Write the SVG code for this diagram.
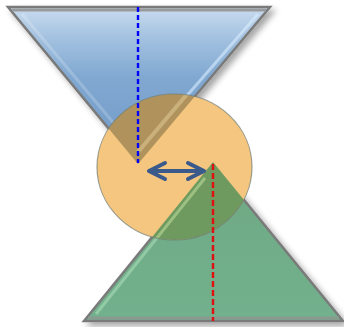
<svg xmlns="http://www.w3.org/2000/svg" width="344" height="327" viewBox="0 0 344 327">
<style>
.tri{stroke:#7a7a7a;stroke-width:2.5;stroke-linejoin:miter}
.dash{fill:none;stroke-width:2.4}
.arr{fill:none;stroke:#3b5a8c;stroke-width:4;stroke-linecap:round;stroke-linejoin:round}
</style>
<defs>
<linearGradient id="gb" x1="0" y1="0" x2="0" y2="1">
<stop offset="0" stop-color="#c9dcef"/>
<stop offset="0.2" stop-color="#a3c1e0"/>
<stop offset="0.45" stop-color="#80a8d1"/>
<stop offset="1" stop-color="#7099c6"/>
</linearGradient>
<linearGradient id="gg" x1="0" y1="0" x2="0" y2="1">
<stop offset="0" stop-color="#6fa883"/>
<stop offset="1" stop-color="#72b18d"/>
</linearGradient>
<clipPath id="cc"><ellipse cx="174.5" cy="167" rx="77.5" ry="73"/></clipPath>
<filter id="sh" x="-10%" y="-10%" width="130%" height="130%">
<feGaussianBlur in="SourceAlpha" stdDeviation="3"/>
<feOffset dx="4" dy="4"/>
<feComponentTransfer><feFuncA type="linear" slope="0.35"/></feComponentTransfer>
<feMerge><feMergeNode/><feMergeNode in="SourceGraphic"/></feMerge>
</filter>
</defs>
<g id="blue-triangle" filter="url(#sh)">
<polygon class="tri" points="8,7 270,7 138,164" fill="url(#gb)"/>
<line x1="138" y1="152" x2="258" y2="14" stroke="#d8ecff" stroke-opacity="0.6" stroke-width="3"/>
<line x1="22" y1="14" x2="138" y2="152" stroke="#ffffff" stroke-opacity="0.2" stroke-width="3"/>
<line x1="12" y1="10" x2="266" y2="10" stroke="#9a9a9a" stroke-width="3"/>
</g>
<g id="green-triangle" filter="url(#sh)">
<polygon class="tri" points="213,162 343,321 84,321" fill="url(#gg)"/>
<line x1="96" y1="314" x2="205" y2="178" stroke="#a8dcb8" stroke-opacity="0.6" stroke-width="3"/>
<line x1="88" y1="318" x2="339" y2="318" stroke="#8a9a90" stroke-width="3"/>
</g>
<g id="circle">
<ellipse cx="174.5" cy="167" rx="77.5" ry="73" fill="#f5c67f"/>
<g clip-path="url(#cc)">
<polygon points="8,7 270,7 138,164" fill="#b0935c"/>
<line x1="138" y1="152" x2="250" y2="20" stroke="#d6bc88" stroke-opacity="0.7" stroke-width="4"/>
<polygon points="213,162 343,321 84,321" fill="#6e9a60"/>
<line x1="96" y1="314" x2="205" y2="178" stroke="#a7c98a" stroke-opacity="0.8" stroke-width="3"/>
</g>
<ellipse cx="174.5" cy="167" rx="77.5" ry="73" fill="none" stroke="#6f7b70" stroke-opacity="0.7" stroke-width="1.2"/>
</g>
<g id="connectors">
<line class="dash" x1="138" y1="7" x2="138" y2="163" stroke="#0000ff" stroke-dasharray="5,3"/>
<line class="dash" x1="213" y1="164" x2="213" y2="321" stroke="#e01010" stroke-dasharray="6,3"/>
<path class="arr" d="M149,171 H204 M165,163 L149,171 L165,179 M188,163 L204,171 L188,179"/>
</g>
</svg>
